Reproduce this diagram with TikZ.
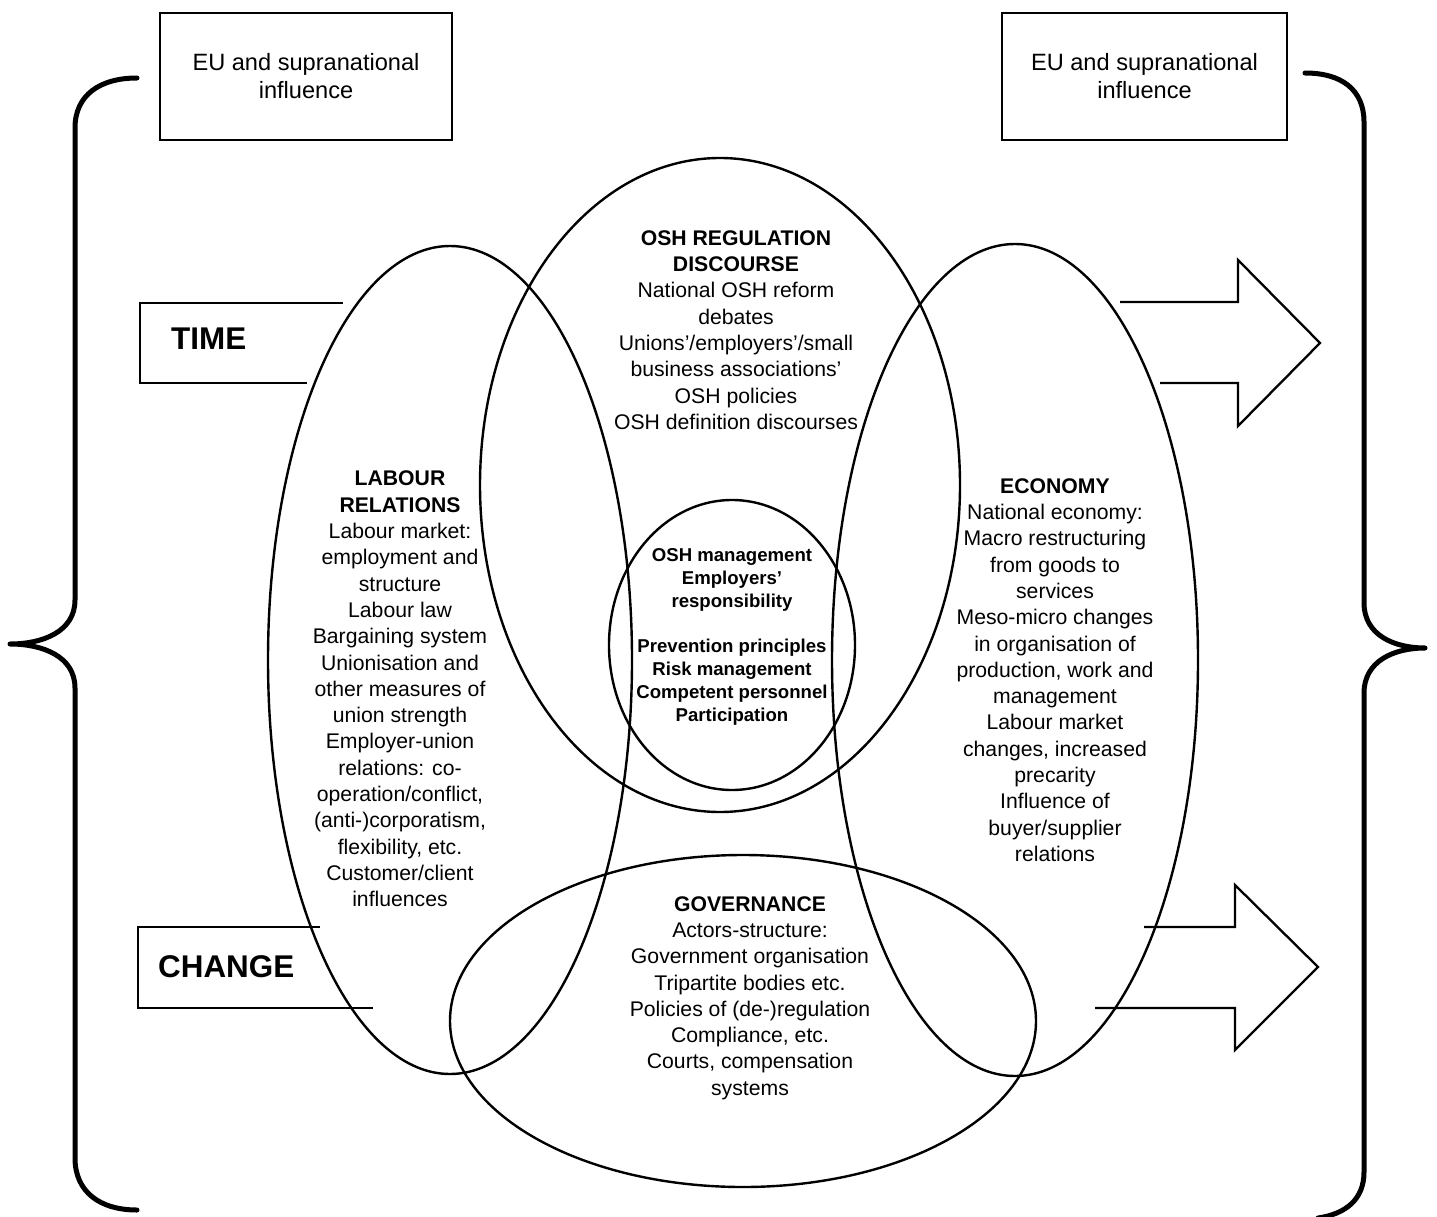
\documentclass[tikz,border=0pt]{standalone}
\usepackage{fontspec}
\setmainfont{Liberation Sans}
\usetikzlibrary{shapes.geometric}

\tikzset{
  field/.style={draw, ellipse, line width=2.4pt, inner sep=0pt},
  bracket/.style={line width=5pt, line cap=round, line join=round},
  blockarrow/.style={line width=2.3pt, line join=miter},
  eubox/.style={draw, line width=2.2pt, inner sep=0pt, align=center,
    font=\fontsize{23.6}{28}\selectfont},
  bodytext/.style={align=center, inner sep=0pt,
    font=\fontsize{21.2}{26.3}\selectfont},
  coretext/.style={align=center, inner sep=0pt,
    font=\bfseries\fontsize{18.6}{22.8}\selectfont},
  bigword/.style={inner sep=0pt, anchor=west,
    font=\bfseries\fontsize{31.4}{36}\selectfont}
}

\begin{document}
\begin{tikzpicture}[x=1pt, y=-1pt]
  \useasboundingbox (0,0) rectangle (1437,1217);

  % outer braces
  \draw[bracket] (137,78) .. controls (100,78) and (75,95) .. (75,128)
    -- (75,600) .. controls (75,632) and (42,644) .. (10,644)
    .. controls (42,644) and (75,656) .. (75,688)
    -- (75,1158) .. controls (75,1192) and (100,1210) .. (137,1210);
  \draw[bracket] (1305,73) .. controls (1342,73) and (1364,90) .. (1364,122)
    -- (1364,603) .. controls (1364,635) and (1394,648) .. (1425,648)
    .. controls (1394,648) and (1364,661) .. (1364,693)
    -- (1364,1172) .. controls (1364,1200) and (1345,1214) .. (1318,1218);

  % supranational boxes
  \node[eubox, minimum width=292pt, minimum height=127pt] (euL) at (306,76.5)
    {EU and supranational\\influence};
  \node[eubox, minimum width=285pt, minimum height=127pt] (euR) at (1144.5,76.5)
    {EU and supranational\\influence};

  % TIME block arrow (tail and head pieces)
  \draw[blockarrow] (343,303) -- (140,303) -- (140,383) -- (307,383);
  \draw[blockarrow] (1120,302) -- (1238,302) -- (1238,260) -- (1320,343)
    -- (1238,426) -- (1238,383) -- (1160,383);
  \node[bigword] (time) at (171,339) {TIME};

  % CHANGE block arrow (tail and head pieces)
  \draw[blockarrow] (320,927) -- (138,927) -- (138,1008) -- (373,1008);
  \draw[blockarrow] (1144,927) -- (1235,927) -- (1235,885) -- (1318,967)
    -- (1235,1050) -- (1235,1008) -- (1095,1008);
  \node[bigword] (change) at (158,967) {CHANGE};

  % the five fields
  \node[field, minimum width=364pt, minimum height=828pt] (labour) at (450,660) {};
  \node[field, minimum width=480pt, minimum height=654pt] (osh) at (720,485) {};
  \node[field, minimum width=366pt, minimum height=832pt] (economy) at (1015,660) {};
  \node[field, minimum width=586pt, minimum height=332pt] (governance) at (743,1021) {};
  \node[field, minimum width=246pt, minimum height=290pt] (core) at (732,645) {};

  % field texts
  \node[bodytext] (oshtext) at (736,330) {\textbf{OSH REGULATION}\\\textbf{DISCOURSE}\\
    National OSH reform\\debates\\Unions’/employers’/small\\business associations’\\
    OSH policies\\OSH definition discourses};
  \node[bodytext] (labourtext) at (400,689) {\textbf{LABOUR}\\\textbf{RELATIONS}\\
    Labour market:\\employment and\\structure\\Labour law\\Bargaining system\\
    Unionisation and\\other measures of\\union strength\\Employer-union\\
    relations: co-\\operation/conflict,\\(anti-)corporatism,\\flexibility, etc.\\
    Customer/client\\influences};
  \node[bodytext] (economytext) at (1055,670) {\textbf{ECONOMY}\\National economy:\\
    Macro restructuring\\from goods to\\services\\Meso-micro changes\\
    in organisation of\\production, work and\\management\\Labour market\\
    changes, increased\\precarity\\Influence of\\buyer/supplier\\relations};
  \node[bodytext] (governancetext) at (750,998) {\textbf{GOVERNANCE}\\Actors-structure:\\
    Government organisation\\Tripartite bodies etc.\\Policies of (de-)regulation\\
    Compliance, etc.\\Courts, compensation\\systems};
  \node[coretext] (coretxt) at (732,637) {OSH management\\Employers’\\responsibility\\[22.8pt]
    Prevention principles\\Risk management\\Competent personnel\\Participation};
\end{tikzpicture}
\end{document}
